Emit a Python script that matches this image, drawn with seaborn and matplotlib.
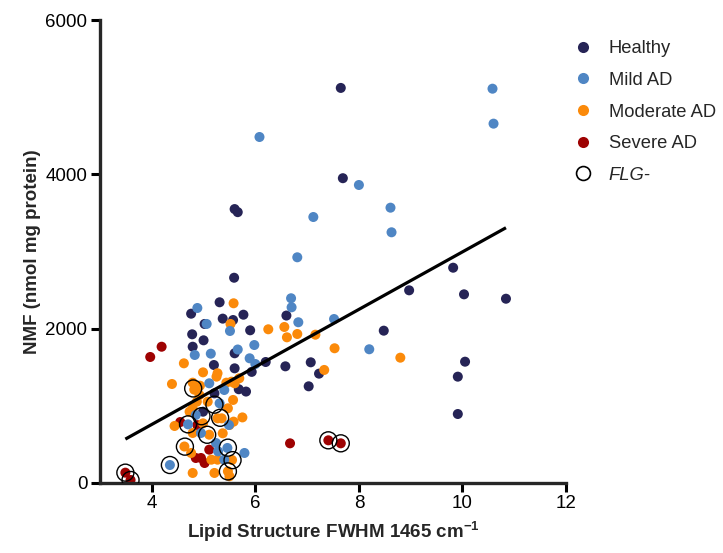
import numpy as np
import pandas as pd
import matplotlib
matplotlib.use("Agg")
import matplotlib.pyplot as plt
import seaborn as sns
from matplotlib.lines import Line2D

# ---------------- data ----------------
healthy_x = [7.65, 7.69, 5.60, 5.66, 5.59, 5.31, 4.76, 5.37, 5.57, 5.77, 5.02, 5.90, 4.78,
             5.00, 4.79, 5.60, 5.20, 5.60, 5.93, 6.20, 6.58, 6.60, 5.68, 5.82, 5.21, 4.99,
             7.07, 7.23, 7.03, 8.48, 10.84, 10.05, 9.91, 9.91, 9.82, 8.97, 10.03]
healthy_y = [5120, 3950, 3550, 3510, 2660, 2342, 2194, 2130, 2112, 2181, 2061, 1979, 1927,
             1849, 1766, 1681, 1529, 1486, 1440, 1568, 1512, 2170, 1215, 1185, 1162, 924,
             1564, 1417, 1253, 1974, 2388, 1572, 1378, 894, 2790, 2497, 2445]

mild_x = [10.58, 10.60, 6.08, 8.00, 7.12, 8.61, 8.63, 6.81, 6.69, 6.70, 6.83, 7.52, 4.88,
          5.06, 5.51, 5.98, 5.66, 4.83, 5.14, 5.89, 6.00, 8.20, 5.11, 5.40, 5.31, 4.85,
          4.70, 4.95, 5.49, 5.24, 5.46, 5.28, 5.79, 5.40, 4.35]
mild_y = [5110, 4657, 4484, 3862, 3447, 3568, 3249, 2925, 2394, 2277, 2083, 2125, 2268,
          2061, 1970, 1788, 1730, 1659, 1676, 1616, 1542, 1733, 1292, 1205, 1033, 881,
          760, 648, 752, 518, 454, 410, 389, 302, 233]

moderate_x = [5.58, 5.52, 6.25, 6.56, 6.61, 6.81, 7.16, 7.53, 7.33, 8.80, 4.62, 4.99, 5.27,
              5.25, 4.39, 4.79, 4.93, 5.44, 5.54, 5.60, 5.69, 4.82, 4.92, 4.87, 5.57, 5.08,
              5.47, 4.79, 4.73, 5.27, 5.35, 5.75, 5.58, 5.50, 4.44, 4.99, 4.79, 5.11, 5.37,
              4.63, 4.76, 5.15, 5.27, 4.79, 5.21, 5.47, 5.50, 5.55]
moderate_y = [2329, 2061, 1992, 2022, 1888, 1931, 1922, 1746, 1465, 1624, 1551, 1434, 1422,
              1378, 1283, 1300, 1261, 1300, 1313, 1292, 1357, 1210, 1140, 1054, 1076, 1054,
              968, 968, 924, 838, 838, 850, 795, 752, 739, 773, 648, 626, 644,
              473, 389, 302, 302, 130, 130, 151, 87, 298]

severe_x = [4.19, 3.97, 6.67, 7.41, 7.65, 4.55, 4.88, 5.11, 4.85, 4.95, 5.02, 3.49, 3.59]
severe_y = [1766, 1633, 514, 553, 514, 790, 750, 432, 324, 324, 259, 134, 39]

flg_x = [3.49, 3.59, 4.35, 4.64, 4.70, 4.80, 4.96, 5.21, 5.07, 5.32, 5.47, 5.56, 5.47, 7.41, 7.65]
flg_y = [134, 39, 233, 471, 760, 1225, 865, 1015, 625, 845, 458, 296, 150, 553, 514]

groups = ["Healthy", "Mild AD", "Moderate AD", "Severe AD"]
colors = {"Healthy": "#262456", "Mild AD": "#4f86c4",
          "Moderate AD": "#fb8a0a", "Severe AD": "#9e0202"}

fit_slope = 372.7
fit_intercept = -732.0

df = pd.concat([
    pd.DataFrame({"x": healthy_x, "y": healthy_y, "group": "Healthy"}),
    pd.DataFrame({"x": mild_x, "y": mild_y, "group": "Mild AD"}),
    pd.DataFrame({"x": moderate_x, "y": moderate_y, "group": "Moderate AD"}),
    pd.DataFrame({"x": severe_x, "y": severe_y, "group": "Severe AD"}),
], ignore_index=True)
flg = pd.DataFrame({"x": flg_x, "y": flg_y})

# ---------------- plot ----------------
sns.set_style("ticks")
plt.rcParams["font.family"] = ["Liberation Sans", "DejaVu Sans"]
plt.rcParams["mathtext.fontset"] = "custom"
plt.rcParams["mathtext.bf"] = "Liberation Sans:bold"
plt.rcParams["mathtext.rm"] = "Liberation Sans"

fig = plt.figure(figsize=(7.23, 5.53), dpi=100)
ax = fig.add_axes([0.1383, 0.1266, 0.7829 - 0.1383, 0.9638 - 0.1266])

draw_order = ["Healthy", "Severe AD", "Moderate AD", "Mild AD"]
for g in draw_order:
    sub = df[df["group"] == g]
    sns.scatterplot(data=sub, x="x", y="y", color=colors[g], s=52,
                    edgecolor="none", linewidth=0, ax=ax, legend=False, zorder=2)

xs = np.array([df["x"].min(), df["x"].max()])
ax.plot(xs, fit_slope * xs + fit_intercept, color="black", lw=2.3, zorder=3,
        solid_capstyle="butt")

sns.scatterplot(data=flg, x="x", y="y", s=150, facecolor="none", edgecolor="black",
                linewidth=1.0, ax=ax, legend=False, zorder=4)

ax.set_xlim(3, 12)
ax.set_ylim(0, 6000)
ax.set_xticks([4, 6, 8, 10, 12])
ax.set_yticks([0, 2000, 4000, 6000])
for side in ["top", "right"]:
    ax.spines[side].set_visible(False)
for side in ["left", "bottom"]:
    ax.spines[side].set_linewidth(2.4)
ax.tick_params(axis="both", direction="out", length=6.5, width=2.2, labelsize=13.5,
               pad=2.5, colors="black")

ax.set_xlabel(r"Lipid Structure FWHM 1465 cm$^{\mathbf{-1}}$", fontsize=13.5,
              fontweight="bold", labelpad=5)
ax.set_ylabel("NMF (nmol mg protein)", fontsize=13.5, fontweight="bold", labelpad=3)

handles = [Line2D([0], [0], marker="o", ls="none", markersize=8,
                  markerfacecolor=colors[g], markeredgecolor="none") for g in groups]
handles.append(Line2D([0], [0], marker="o", ls="none", markersize=10,
                      markerfacecolor="none", markeredgecolor="black", markeredgewidth=1.2))
leg = ax.legend(handles, groups + ["FLG-"], loc="upper left",
                bbox_to_anchor=(0.981, 0.992), frameon=False, fontsize=13.2,
                handletextpad=0.9, labelspacing=0.8, handlelength=1.0,
                borderaxespad=0.5)
leg.get_texts()[-1].set_fontstyle("italic")

fig.savefig("out.png", dpi=100)
